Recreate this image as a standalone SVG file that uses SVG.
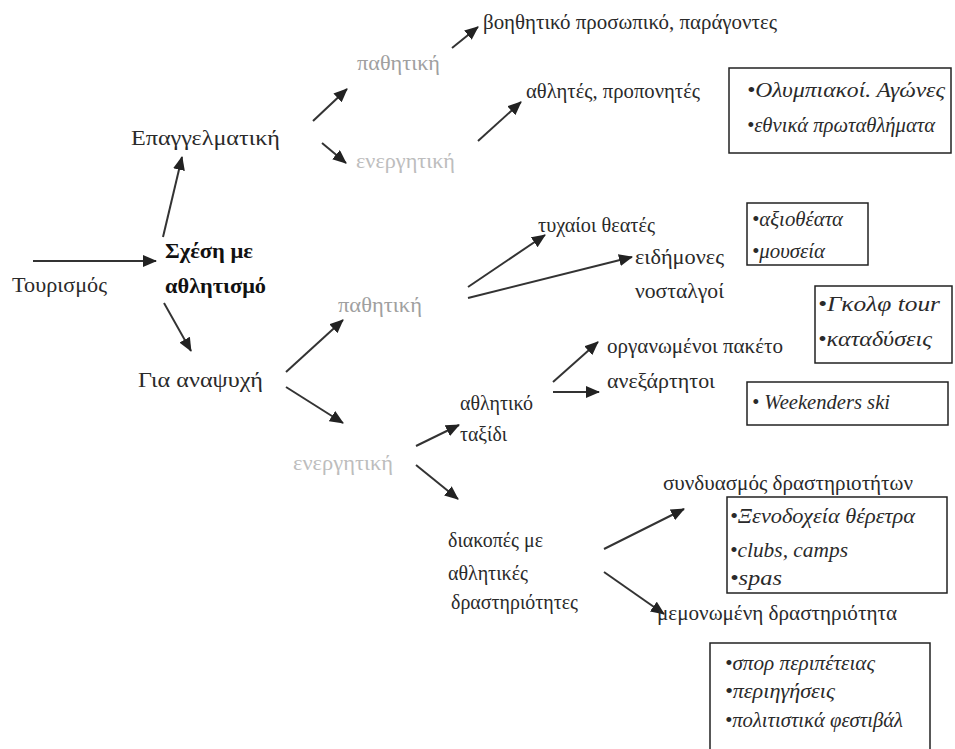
<svg xmlns="http://www.w3.org/2000/svg" width="955" height="749" viewBox="0 0 955 749">
<style>
text{font-family:"Liberation Serif","DejaVu Serif",serif;font-size:20px;fill:#2a2a2a}
.b{font-weight:bold;fill:#111}
.g1{fill:#a0a0a0}
.g2{fill:#bdbdbd}
.i{font-style:italic}
.box{fill:none;stroke:#222;stroke-width:1.5}
.c line{stroke:#333;stroke-width:2;marker-end:url(#ah)}
</style>
<defs>
<marker id="ah" markerUnits="userSpaceOnUse" markerWidth="14" markerHeight="12" refX="13" refY="6" orient="auto">
<path d="M0,0 L14,6 L0,12 z" fill="#222"/>
</marker>
</defs>
<rect width="955" height="749" fill="#fff"/>
<g class="c" id="connectors">
<line x1="33" y1="261" x2="156" y2="261"/>
<line x1="163" y1="237" x2="182" y2="157"/>
<line x1="164" y1="303" x2="191" y2="351"/>
<line x1="313" y1="121" x2="347" y2="89"/>
<line x1="322" y1="143" x2="346" y2="163"/>
<line x1="452" y1="48" x2="478" y2="27"/>
<line x1="478" y1="141" x2="521" y2="102"/>
<line x1="286" y1="372" x2="343" y2="320"/>
<line x1="286" y1="387" x2="343" y2="423"/>
<line x1="468" y1="287" x2="545" y2="235"/>
<line x1="468" y1="298" x2="632" y2="257"/>
<line x1="553" y1="382" x2="598" y2="342"/>
<line x1="553" y1="392" x2="599" y2="392"/>
<line x1="416" y1="446" x2="459" y2="425"/>
<line x1="416" y1="465" x2="458" y2="499"/>
<line x1="604" y1="549" x2="684" y2="509"/>
<line x1="604" y1="572" x2="664" y2="614"/>
</g>
<g lengthAdjust="spacingAndGlyphs">
<g id="tourismos"><text x="12" y="292" textLength="95" lengthAdjust="spacingAndGlyphs">Τουρισμός</text></g>
<g id="schesi"><text class="b" x="165" y="258" textLength="88" lengthAdjust="spacingAndGlyphs">Σχέση με</text><text class="b" x="165" y="293" textLength="101" lengthAdjust="spacingAndGlyphs">αθλητισμό</text></g>
<g id="epaggelmatiki"><text x="131" y="145" style="font-size:21px" textLength="149" lengthAdjust="spacingAndGlyphs">Επαγγελματική</text></g>
<g id="anapsyxi"><text x="138" y="387" style="font-size:21px" textLength="125" lengthAdjust="spacingAndGlyphs">Για αναψυχή</text></g>
<g id="pathitiki1"><text class="g1" x="357" y="70" textLength="83" lengthAdjust="spacingAndGlyphs">παθητική</text></g>
<g id="energitiki1"><text class="g2" x="356" y="168" textLength="99" lengthAdjust="spacingAndGlyphs">ενεργητική</text></g>
<g id="voithitiko"><text x="483" y="29" textLength="294" lengthAdjust="spacingAndGlyphs">βοηθητικό προσωπικό, παράγοντες</text></g>
<g id="athlites"><text x="526" y="98" textLength="174" lengthAdjust="spacingAndGlyphs">αθλητές, προπονητές</text></g>
<g id="box-olympiakoi"><rect class="box" x="729" y="68" width="222" height="85"/><text class="i" x="747" y="97" textLength="198" lengthAdjust="spacingAndGlyphs">•Ολυμπιακοί. Αγώνες</text><text class="i" x="747" y="132" textLength="188" lengthAdjust="spacingAndGlyphs">•εθνικά πρωταθλήματα</text></g>
<g id="pathitiki2"><text class="g1" x="338" y="312" textLength="84" lengthAdjust="spacingAndGlyphs">παθητική</text></g>
<g id="tyxaioi"><text x="538" y="232" textLength="117" lengthAdjust="spacingAndGlyphs">τυχαίοι θεατές</text></g>
<g id="eidimones"><text x="635" y="264" textLength="89" lengthAdjust="spacingAndGlyphs">ειδήμονες</text><text x="635" y="298" textLength="89" lengthAdjust="spacingAndGlyphs">νοσταλγοί</text></g>
<g id="box-axiotheata"><rect class="box" x="747" y="203" width="121" height="62"/><text class="i" x="752" y="226" textLength="91" lengthAdjust="spacingAndGlyphs">•αξιοθέατα</text><text class="i" x="752" y="258" textLength="73" lengthAdjust="spacingAndGlyphs">•μουσεία</text></g>
<g id="box-gkolf"><rect class="box" x="815" y="286" width="137" height="77"/><text class="i" x="818" y="311" textLength="122" lengthAdjust="spacingAndGlyphs">•Γκολφ  tour</text><text class="i" x="818" y="346" textLength="114" lengthAdjust="spacingAndGlyphs">•καταδύσεις</text></g>
<g id="organomenoi"><text x="607" y="353" textLength="176" lengthAdjust="spacingAndGlyphs">οργανωμένοι πακέτο</text></g>
<g id="anexartitoi"><text x="607" y="388" textLength="108" lengthAdjust="spacingAndGlyphs">ανεξάρτητοι</text></g>
<g id="box-weekenders"><rect class="box" x="747" y="382" width="201" height="43"/><text class="i" x="752" y="409" textLength="138" lengthAdjust="spacingAndGlyphs">• Weekenders ski</text></g>
<g id="energitiki2"><text class="g2" x="293" y="470" textLength="100" lengthAdjust="spacingAndGlyphs">ενεργητική</text></g>
<g id="athlitiko"><text x="460" y="410" textLength="73" lengthAdjust="spacingAndGlyphs">αθλητικό</text><text x="460" y="441" textLength="47" lengthAdjust="spacingAndGlyphs">ταξίδι</text></g>
<g id="diakopes"><text x="448" y="547" textLength="95" lengthAdjust="spacingAndGlyphs">διακοπές με</text><text x="448" y="580" textLength="80" lengthAdjust="spacingAndGlyphs">αθλητικές</text><text x="451" y="609" textLength="127" lengthAdjust="spacingAndGlyphs">δραστηριότητες</text></g>
<g id="syndyasmos"><text x="663" y="490" textLength="250" lengthAdjust="spacingAndGlyphs">συνδυασμός δραστηριοτήτων</text></g>
<g id="box-xenodoxeia"><rect class="box" x="727" y="497" width="220" height="96"/><text class="i" x="730" y="523" textLength="185" lengthAdjust="spacingAndGlyphs">•Ξενοδοχεία θέρετρα</text><text class="i" x="730" y="557" textLength="118" lengthAdjust="spacingAndGlyphs">•clubs, camps</text><text class="i" x="730" y="585" textLength="52" lengthAdjust="spacingAndGlyphs">•spas</text></g>
<g id="memonomeni"><text x="657" y="620" textLength="240" lengthAdjust="spacingAndGlyphs">μεμονωμένη δραστηριότητα</text></g>
<g id="box-spor"><rect class="box" x="710" y="643" width="220" height="110"/><text class="i" x="725" y="670" textLength="150" lengthAdjust="spacingAndGlyphs">•σπορ περιπέτειας</text><text class="i" x="725" y="698" textLength="110" lengthAdjust="spacingAndGlyphs">•περιηγήσεις</text><text class="i" x="725" y="727" textLength="178" lengthAdjust="spacingAndGlyphs">•πολιτιστικά φεστιβάλ</text></g>
</g>
</svg>
